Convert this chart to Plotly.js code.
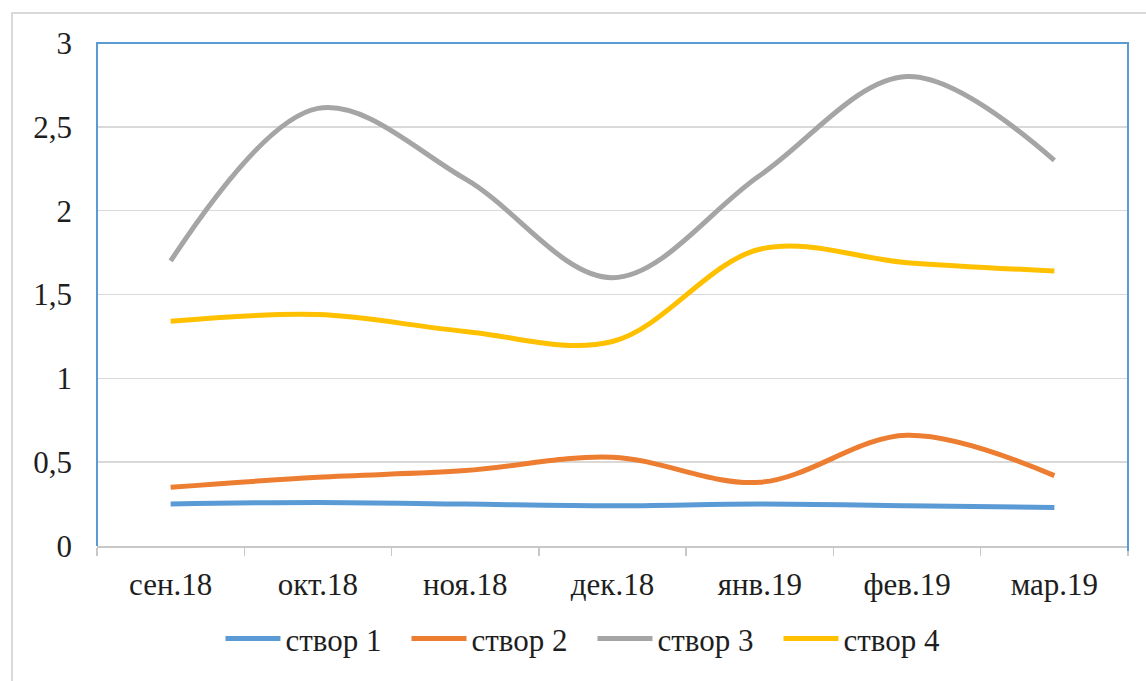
<!DOCTYPE html>
<html>
<head>
<meta charset="utf-8">
<script src="https://cdn.plot.ly/plotly-3.0.1.min.js"></script>
<style>html,body{margin:0;padding:0;background:#fff;}#chart{width:1146px;height:681px;}</style>
</head>
<body>
<div id="chart"></div>
<script>
const months = ['сен.18','окт.18','ноя.18','дек.18','янв.19','фев.19','мар.19'];
const stvor1 = [0.25, 0.26, 0.25, 0.24, 0.25, 0.24, 0.23];
const stvor2 = [0.35, 0.41, 0.45, 0.53, 0.38, 0.66, 0.42];
const stvor3 = [1.70, 2.61, 2.19, 1.60, 2.21, 2.80, 2.30];
const stvor4 = [1.34, 1.38, 1.28, 1.22, 1.77, 1.69, 1.64];
const names = ['створ 1','створ 2','створ 3','створ 4'];
const colors = ['#5B9BD5','#ED7D31','#A5A5A5','#FFC000'];
const series = [stvor1, stvor2, stvor3, stvor4];

const font = 'Liberation Serif';
const traces = series.map((s, i) => ({
  x: months, y: s, name: names[i], type: 'scatter', mode: 'lines',
  line: {color: colors[i], width: 5, shape: 'spline', smoothing: 1}
}));

const layout = {
  width: 1146, height: 681,
  margin: {l: 97, r: 18, t: 43, b: 135},
  paper_bgcolor: '#fff', plot_bgcolor: '#fff',
  separators: ', ',
  font: {family: font, size: 31, color: '#1e1e1e'},
  showlegend: true,
  legend: {orientation: 'h', xref: 'container', yref: 'container', x: 0.517, xanchor: 'center', y: 0.062, yanchor: 'middle',
           font: {family: font, size: 31, color: '#1e1e1e'}, itemwidth: 55, entrywidth: 116, traceorder: 'normal'},
  xaxis: {type: 'category', range: [-0.5, 6.5], showgrid: false, zeroline: false,
          showline: true, linecolor: '#c8c8c8', linewidth: 1.5,
          ticks: 'outside', tickson: 'boundaries', ticklen: 8, tickcolor: '#c8c8c8', tickwidth: 1.5,
          tickfont: {family: font, size: 31, color: '#1e1e1e'}, ticklabelstandoff: 10},
  yaxis: {range: [0, 3], dtick: 0.5, tick0: 0, showgrid: true, gridcolor: '#d9d9d9', gridwidth: 1.5,
          zeroline: false, showline: false, ticks: '', ticklabelstandoff: 24,
          tickfont: {family: font, size: 31, color: '#1e1e1e'}},
  shapes: [
    {type: 'rect', xref: 'paper', yref: 'paper', x0: -0.0824, x1: 1.2, y0: -0.5, y1: 1.0597,
     line: {color: '#d9d9d9', width: 2}, fillcolor: 'rgba(0,0,0,0)', layer: 'below'},
    {type: 'path', xref: 'paper', yref: 'paper', path: 'M0,0 L0,1 L1,1 L1,-0.01',
     line: {color: '#5B9BD5', width: 2}, layer: 'above'}
  ]
};

Plotly.newPlot('chart', traces, layout, {displayModeBar: false, staticPlot: true});
</script>
</body>
</html>
